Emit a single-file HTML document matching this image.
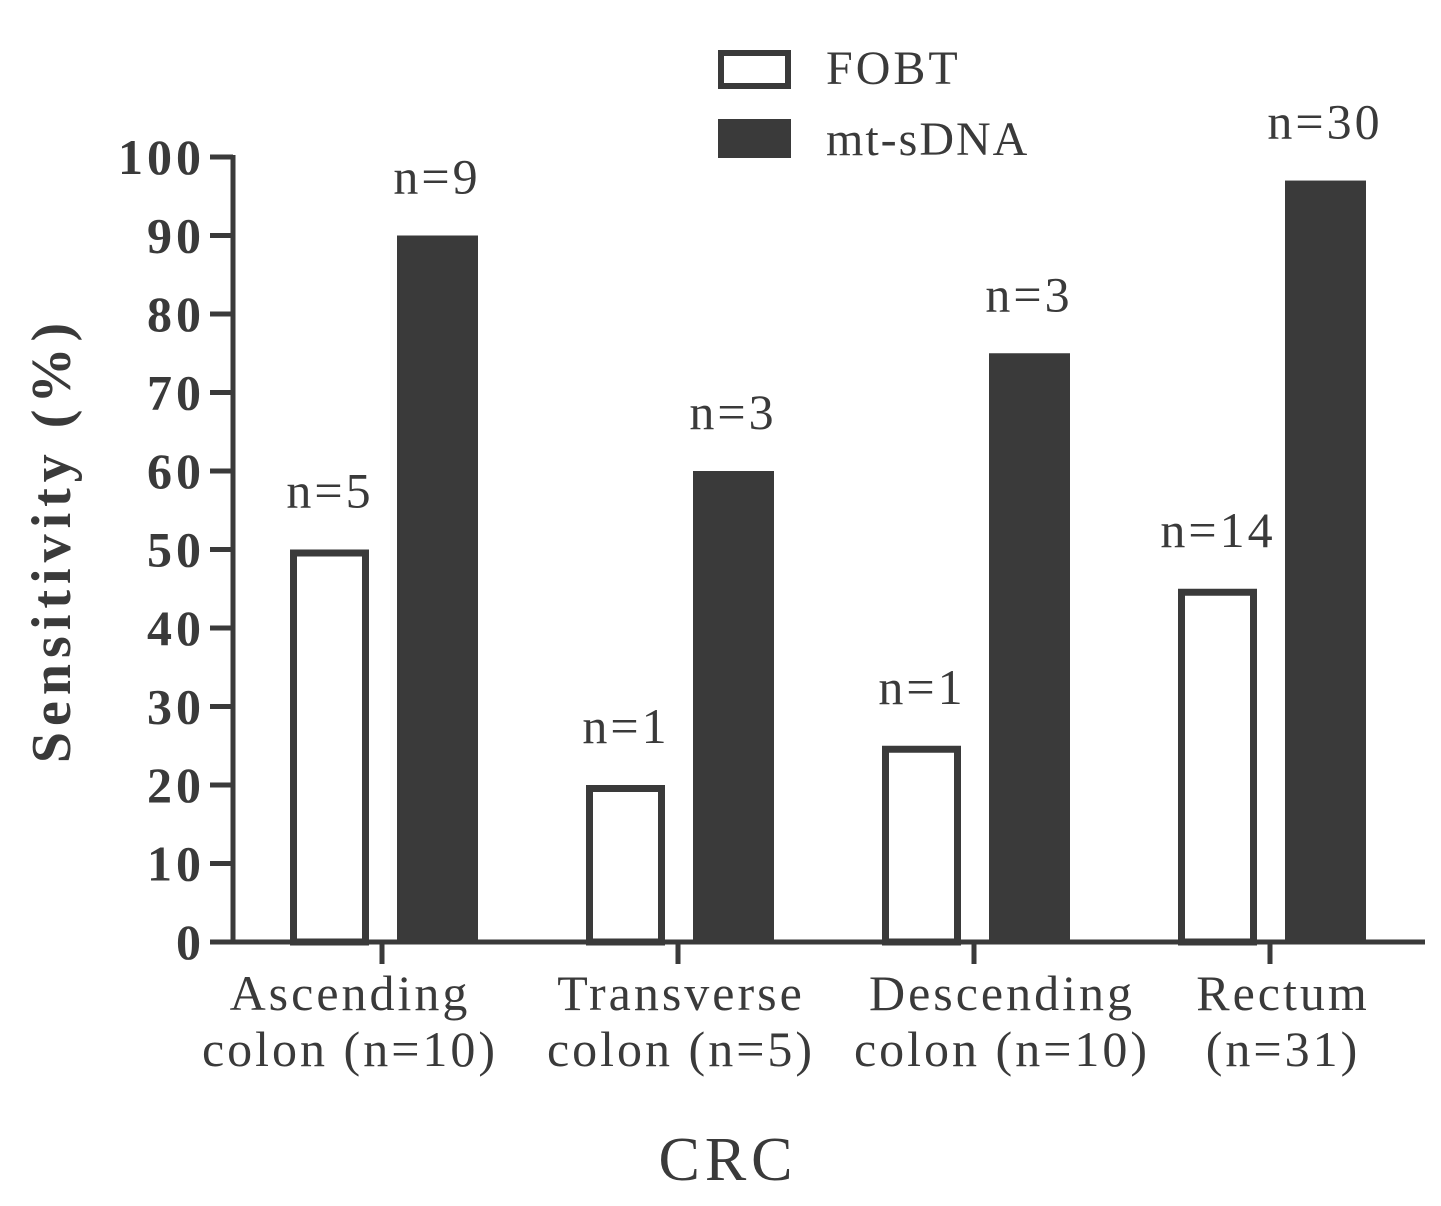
<!DOCTYPE html>
<html><head><meta charset="utf-8"><style>
body{margin:0;background:#fff;}
svg text{font-family:"Liberation Serif",serif;fill:#3a3a3a;}
</style></head><body>
<svg width="1441" height="1201" id="chart"></svg>
<script>
const categories=[["Ascending","colon (n=10)"],["Transverse","colon (n=5)"],["Descending","colon (n=10)"],["Rectum","(n=31)"]];
const fobtValues=[50,20,25,45];
const mtValues=[90,60,75,97];
const fobtLabels=["n=5","n=1","n=1","n=14"];
const mtLabels=["n=9","n=3","n=3","n=30"];
const yTicks=[0,10,20,30,40,50,60,70,80,90,100];
const NS="http://www.w3.org/2000/svg";
const svg=document.getElementById('chart');
const C="#3a3a3a";
const labelShift=[-32,3,28,13];
function y(v){return 942-v*7.85;}
function xc(i){return 382+i*296;}
function mk(t,a,txt){const e=document.createElementNS(NS,t);for(const k in a)e.setAttribute(k,a[k]);if(txt!==undefined)e.textContent=txt;svg.appendChild(e);return e;}
let e;
e=mk('line',{x1:233,y1:155,x2:233,y2:944,stroke:C,'stroke-width':5});


e=mk('line',{x1:231,y1:942,x2:1425,y2:942,stroke:C,'stroke-width':5});


yTicks.forEach(v=>{
 e=mk('line',{x1:210,y1:y(v),x2:233,y2:y(v),stroke:C,'stroke-width':5});
 
 
 e=mk('text',{x:205,y:y(v)+17,'text-anchor':'end','font-size':50,'font-weight':'bold','letter-spacing':4},String(v));
 
 
});
categories.forEach((c,i)=>{
 const cx=xc(i);
 e=mk('line',{x1:cx,y1:942,x2:cx,y2:964,stroke:C,'stroke-width':5});
 
 
 e=mk('text',{x:cx+labelShift[i],y:1010,'text-anchor':'middle','font-size':50,'letter-spacing':3},c[0]);
 
 
 e=mk('text',{x:cx+labelShift[i],y:1066,'text-anchor':'middle','font-size':50,'letter-spacing':3},c[1]);
 
 
 const fx=cx-92, mx=cx+15;
 e=mk('rect',{x:fx+3.5,y:y(fobtValues[i])+3.5,width:72,height:942-y(fobtValues[i])-3.5,fill:'#fff',stroke:C,'stroke-width':7});
 
 
 e=mk('rect',{x:mx,y:y(mtValues[i]),width:81,height:942-y(mtValues[i]),fill:C});
 
 
 e=mk('text',{x:fx+40,y:y(fobtValues[i])-42,'text-anchor':'middle','font-size':50,'letter-spacing':3},fobtLabels[i]);
 
 
 e=mk('text',{x:mx+40,y:y(mtValues[i])-42,'text-anchor':'middle','font-size':50,'letter-spacing':3},mtLabels[i]);
 
 
});
e=mk('text',{x:52,y:540,'text-anchor':'middle','font-size':56,'font-weight':'bold','letter-spacing':6,transform:'rotate(-90 52 540)',dy:18},'Sensitivity (%)');


e=mk('text',{x:728,y:1180,'text-anchor':'middle','font-size':62,'letter-spacing':5},'CRC');


e=mk('rect',{x:721,y:53,width:67,height:33,fill:'#fff',stroke:C,'stroke-width':6});


e=mk('text',{x:826,y:84,'font-size':48,'letter-spacing':3},'FOBT');


e=mk('rect',{x:718,y:119,width:73,height:39,fill:C});


e=mk('text',{x:826,y:155,'font-size':48,'letter-spacing':2},'mt-sDNA');


</script>
</body></html>
